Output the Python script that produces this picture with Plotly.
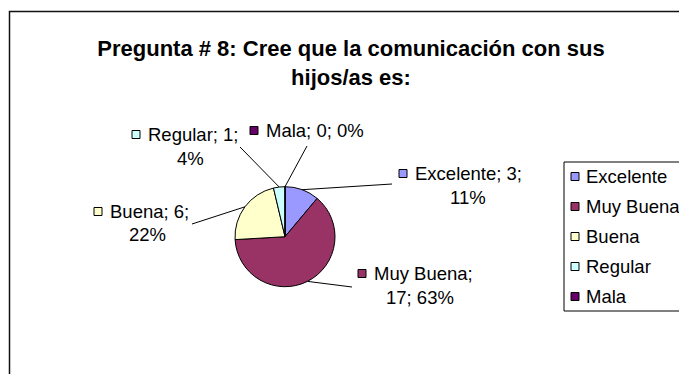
import math
import plotly.graph_objects as go

# Survey answers for question 8
categories = ["Excelente", "Muy Buena", "Buena", "Regular", "Mala"]
counts = [3, 17, 6, 1, 0]
slice_colors = ["#9999FF", "#993366", "#FFFFCC", "#CCFFFF", "#660066"]

W, H = 679, 374
FONT = "Arial, Liberation Sans, sans-serif"


def px(x):
    return x / W


def py(y):
    return 1 - y / H


# Pie geometry (pixels)
cx, cy, r = 285.0, 236.7, 50.0

# Label placement (pixels): first-line text start, first-line y,
# second-line centre x, second-line y, leader-line end
label_layout = {
    "Excelente": dict(x1=413, y1=173, x2=468, y2=197, lx=392, ly=184),
    "Muy Buena": dict(x1=372, y1=273, x2=420, y2=297, lx=352, ly=287),
    "Buena": dict(x1=108, y1=211, x2=147, y2=235, lx=192, ly=224),
    "Regular": dict(x1=146, y1=134, x2=190, y2=158, lx=240, ly=147),
    "Mala": dict(x1=264, y1=130, x2=None, y2=None, lx=307, ly=146),
}

total = sum(counts)
pcts = [round(100 * c / total) for c in counts]

fig = go.Figure(
    go.Pie(
        labels=categories,
        values=counts,
        marker=dict(colors=slice_colors, line=dict(color="black", width=1)),
        sort=False,
        direction="clockwise",
        rotation=0,
        textinfo="none",
        hoverinfo="label+value+percent",
        showlegend=False,
        domain=dict(x=[px(cx - r), px(cx + r)], y=[py(cy + r), py(cy - r)]),
    )
)

shapes = []
annotations = []

# Outer chart frame (right and bottom edges fall outside the canvas)
shapes.append(dict(type="rect", xref="paper", yref="paper",
                   x0=px(9.5), x1=px(W + 20), y0=py(H + 20), y1=py(11.5),
                   line=dict(color="#111", width=1.5), fillcolor="rgba(0,0,0,0)"))

# Data labels with leader lines
label_font = dict(family=FONT, size=18.5, color="black")
cum = 0
for cat, cnt, pct, col in zip(categories, counts, pcts, slice_colors):
    mid = (cum + cnt / 2) / total * 2 * math.pi
    cum += cnt
    sx = cx + r * math.sin(mid)
    sy = cy - r * math.cos(mid)
    L = label_layout[cat]
    shapes.append(dict(type="line", xref="paper", yref="paper",
                       x0=px(sx), y0=py(sy), x1=px(L["lx"]), y1=py(L["ly"]),
                       line=dict(color="black", width=1)))
    if cat == "Mala":
        first = f"{cat}; {cnt}; {pct}%"
        second = None
    elif cat == "Muy Buena":
        first = f"{cat};"
        second = f"{cnt}; {pct}%"
    else:
        first = f"{cat}; {cnt};"
        second = f"{pct}%"
    annotations.append(dict(xref="paper", yref="paper", x=px(L["x1"]), y=py(L["y1"]),
                            xanchor="left", yanchor="middle", text=first,
                            showarrow=False, font=label_font))
    shapes.append(dict(type="rect", xref="paper", yref="paper",
                       x0=px(L["x1"] - 14), x1=px(L["x1"] - 6),
                       y0=py(L["y1"] + 4.5), y1=py(L["y1"] - 3.5),
                       fillcolor=col, line=dict(color="black", width=1)))
    if second is not None:
        annotations.append(dict(xref="paper", yref="paper", x=px(L["x2"]), y=py(L["y2"]),
                                xanchor="center", yanchor="middle", text=second,
                                showarrow=False, font=label_font))

# Legend box
leg_left, leg_top, leg_bottom = 564, 162, 311
shapes.append(dict(type="rect", xref="paper", yref="paper",
                   x0=px(leg_left), x1=px(W + 20), y0=py(leg_bottom), y1=py(leg_top),
                   line=dict(color="black", width=1), fillcolor="white"))
for i, (cat, col) in enumerate(zip(categories, slice_colors)):
    yc = 176 + 30 * i
    shapes.append(dict(type="rect", xref="paper", yref="paper",
                       x0=px(571), x1=px(579), y0=py(yc + 4.5), y1=py(yc - 3.5),
                       fillcolor=col, line=dict(color="black", width=1)))
    annotations.append(dict(xref="paper", yref="paper", x=px(584), y=py(yc),
                            xanchor="left", yanchor="middle", text=cat,
                            showarrow=False, font=label_font))

fig.update_layout(
    width=W, height=H,
    margin=dict(l=0, r=0, t=0, b=0),
    paper_bgcolor="white",
    plot_bgcolor="white",
    title=dict(text="<b>Pregunta # 8: Cree que la comunicación con sus<br>hijos/as es:</b>",
               x=px(351), xanchor="center", y=py(56), yanchor="middle",
               font=dict(family=FONT, size=22, color="black")),
    shapes=shapes,
    annotations=annotations,
)

fig.write_html("out.html")
